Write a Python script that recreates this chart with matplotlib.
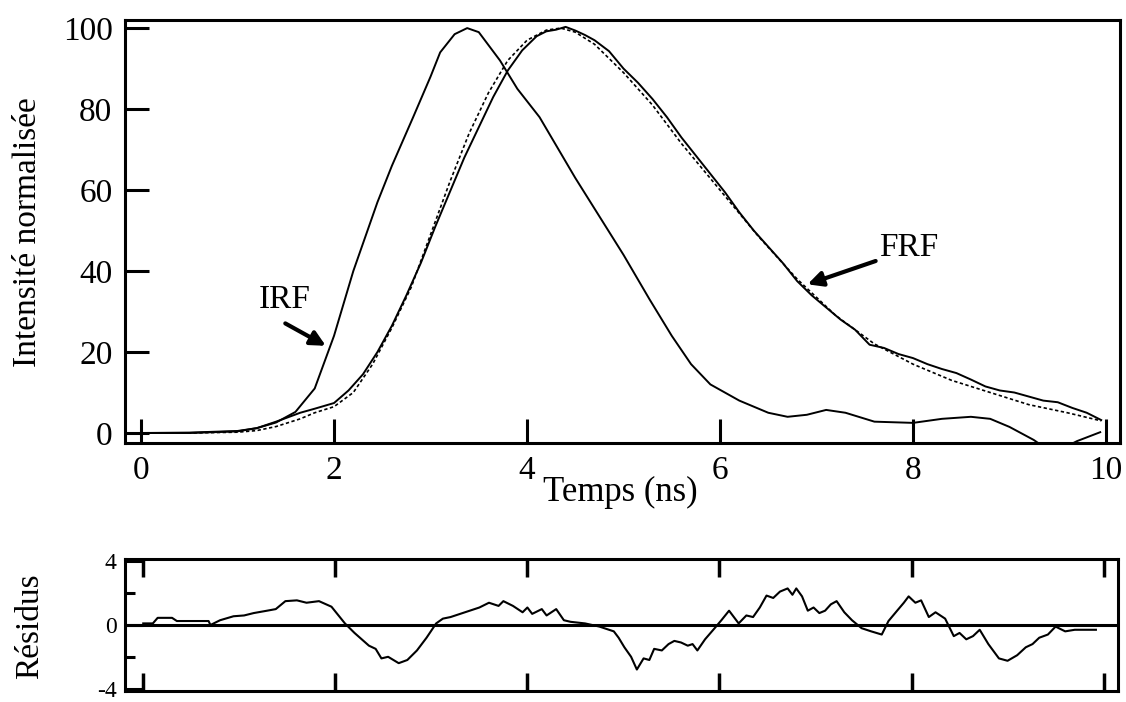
import matplotlib
matplotlib.use("Agg")
import matplotlib.pyplot as plt

plt.rcParams.update({"font.family": "Liberation Serif", "axes.linewidth": 2.2})

# IRF (instrument response)
irf_t = [-0.17, 0, 0.5, 1.0, 1.2, 1.4, 1.6, 1.8, 2.0, 2.2, 2.45, 2.6, 2.82, 3.0, 3.1, 3.25,
         3.38, 3.5, 3.72, 3.9, 4.13, 4.5, 5.0, 5.27, 5.5, 5.7, 5.9, 6.2, 6.5, 6.7, 6.9, 7.1,
         7.3, 7.6, 8.0, 8.3, 8.6, 8.8, 9.0, 9.25, 9.45, 9.7, 9.94]
irf_i = [0, 0, 0, 0.4, 1.2, 2.6, 5.2, 11, 24, 40, 57, 66, 78, 88, 94, 98.5,
         100, 99, 92, 85, 78, 63, 44, 33, 24, 17, 12, 8, 5, 4, 4.5, 5.7,
         5, 2.8, 2.5, 3.5, 4, 3.5, 1.5, -1.7, -5, -2, 0.2]

# FRF (measured fluorescence)
frf_t = [0, 0.5, 1.0, 1.2, 1.4, 1.65, 1.8, 2.0, 2.15, 2.3, 2.45, 2.6, 2.75, 2.9, 3.05, 3.2,
         3.35, 3.5, 3.65, 3.8, 3.95, 4.1, 4.2, 4.3, 4.4, 4.5, 4.6, 4.7, 4.85, 5.0, 5.15, 5.3,
         5.45, 5.6, 5.75, 5.9, 6.05, 6.2, 6.35, 6.5, 6.65, 6.8, 6.95, 7.1, 7.25, 7.4, 7.55,
         7.7, 7.85, 8.0, 8.15, 8.3, 8.45, 8.6, 8.75, 8.9, 9.05, 9.2, 9.35, 9.5, 9.65, 9.8, 9.95]
frf_i = [0, 0.1, 0.5, 1.2, 2.8, 5, 6, 7.4, 10.5, 14.5, 20, 26.5, 34, 42, 51, 59.5,
         68, 75.5, 83, 89.5, 94.5, 98, 99.2, 99.6, 100.3, 99.4, 98.3, 97, 94.3, 90, 86.5, 82.5,
         78, 73, 68.5, 64, 59.5, 54.5, 50, 46, 42, 37.5, 34, 31, 28, 25.5, 21.8,
         21, 19.5, 18.5, 17, 15.8, 14.8, 13.2, 11.5, 10.5, 10, 9, 8, 7.6, 6.2, 5, 3.2]

# fitted curve (dotted)
fit_t = [0, 0.5, 1.0, 1.2, 1.4, 1.65, 1.8, 2.0, 2.2, 2.4, 2.6, 2.8, 3.0, 3.2, 3.4, 3.6, 3.8,
         4.0, 4.2, 4.35, 4.5, 4.7, 5.0, 5.3, 5.6, 6.0, 6.4, 6.8, 7.2, 7.6, 8.0, 8.4, 8.8,
         9.2, 9.6, 9.95]
fit_i = [0, 0, 0.2, 0.6, 1.6, 3.5, 5, 6.5, 10, 17, 26, 36, 49, 62, 74, 84, 92,
         97, 99.5, 100, 99, 96, 89, 81, 71.5, 60, 48.5, 38, 29, 22, 17, 13, 10,
         7, 5, 3]

# residuals
res_t = [0.0, 0.1, 0.15, 0.3, 0.35, 0.5, 0.68, 0.7, 0.8, 0.94,
         1.05, 1.15, 1.29, 1.38, 1.48, 1.6, 1.7, 1.83, 1.96, 2.1,
         2.2, 2.35, 2.42, 2.48, 2.55, 2.66, 2.75, 2.85, 2.95, 3.05,
         3.12, 3.2, 3.3, 3.4, 3.5, 3.6, 3.7, 3.75, 3.85, 3.95,
         4.0, 4.05, 4.15, 4.2, 4.3, 4.38, 4.45, 4.6, 4.75, 4.9,
         4.95, 5.01, 5.08, 5.14, 5.21, 5.27, 5.32, 5.4, 5.47, 5.53,
         5.6, 5.67, 5.72, 5.77, 5.85, 5.95, 6.02, 6.1, 6.2, 6.28,
         6.35, 6.42, 6.49, 6.56, 6.63, 6.71, 6.76, 6.8, 6.86, 6.92,
         6.98, 7.04, 7.1, 7.16, 7.22, 7.3, 7.38, 7.48, 7.58, 7.69,
         7.76, 7.85, 7.92, 7.97, 8.04, 8.1, 8.18, 8.25, 8.35, 8.44,
         8.5, 8.57, 8.64, 8.71, 8.8, 8.91, 9.0, 9.1, 9.19, 9.26,
         9.33, 9.42, 9.5, 9.6, 9.7, 9.8, 9.92]
res_v = [0.1, 0.1, 0.45, 0.45, 0.25, 0.25, 0.25, 0.0, 0.3, 0.55,
         0.6, 0.75, 0.9, 1.0, 1.5, 1.55, 1.4, 1.5, 1.15, 0.1,
         -0.5, -1.3, -1.5, -2.1, -2.0, -2.4, -2.2, -1.6, -0.8, 0.1,
         0.4, 0.5, 0.7, 0.9, 1.1, 1.4, 1.2, 1.5, 1.2, 0.8,
         1.1, 0.7, 1.0, 0.6, 1.0, 0.3, 0.2, 0.1, -0.1, -0.4,
         -0.8, -1.4, -2.0, -2.8, -2.1, -2.2, -1.5, -1.6, -1.2, -1.0,
         -1.1, -1.3, -1.2, -1.6, -0.9, -0.2, 0.3, 0.9, 0.1, 0.6,
         0.5, 1.1, 1.85, 1.7, 2.1, 2.3, 1.9, 2.3, 1.8, 0.9,
         1.1, 0.75, 0.9, 1.3, 1.5, 0.8, 0.3, -0.2, -0.4, -0.6,
         0.25, 0.9, 1.4, 1.8, 1.4, 1.55, 0.5, 0.8, 0.4, -0.7,
         -0.5, -0.9, -0.7, -0.3, -1.2, -2.1, -2.25, -1.9, -1.4, -1.2,
         -0.8, -0.6, -0.1, -0.4, -0.3, -0.3, -0.3]

xticks = [0, 2, 4, 6, 8, 10]
yticks = [0, 20, 40, 60, 80, 100]

fig = plt.figure(figsize=(11.26, 7.02), dpi=100)

# main panel
ax = fig.add_axes([125 / 1126, 1 - 443 / 702, 995 / 1126, 423 / 702])
ax.plot(irf_t, irf_i, color="black", lw=1.4)
ax.plot(frf_t, frf_i, color="black", lw=1.4)
ax.plot(fit_t, fit_i, color="black", lw=1.2, ls=(0, (2, 1.5)))
ax.set_xlim(-0.166, 10.145)
ax.set_ylim(-2.47, 102)
ax.set_xticks(xticks)
ax.set_yticks(yticks)
ax.tick_params(direction="in", length=17, width=2.2, labelsize=24, pad=9)
ax.annotate("", xy=(1.94, 21.2), xytext=(1.47, 27.4),
            arrowprops=dict(arrowstyle="-|>", lw=3, color="black", mutation_scale=22))
ax.text(1.49, 32.8, "IRF", fontsize=24, ha="center", va="center")
ax.annotate("", xy=(6.88, 36.5), xytext=(7.64, 42.7),
            arrowprops=dict(arrowstyle="-|>", lw=3, color="black", mutation_scale=22))
ax.text(7.96, 45.7, "FRF", fontsize=24, ha="center", va="center")

fig.text(620 / 1126, 1 - 492 / 702, "Temps (ns)", fontsize=25, ha="center", va="center")
fig.text(28 / 1126, 1 - 232 / 702, "Intensité normalisée", fontsize=24,
         ha="center", va="center", rotation=90)

# residual panel
rx = fig.add_axes([125 / 1126, 1 - 691 / 702, 993 / 1126, 132 / 702])
rx.plot(res_t, res_v, color="black", lw=1.5)
rx.axhline(0, color="black", lw=2.2)
rx.set_xlim(-0.19, 10.15)
rx.set_ylim(-4.15, 4.15)
rx.set_xticks(xticks)
rx.set_yticks([-4, 0, 4])
rx.set_yticks([-2, 2], minor=True)
rx.tick_params(axis="x", direction="in", length=13, width=2.5, top=True, labelbottom=False)
rx.tick_params(axis="y", which="major", direction="in", length=13, width=2.2, labelsize=17, pad=6)
rx.tick_params(axis="y", which="minor", direction="in", length=7, width=2.2)
rx.set_yticklabels(["-4", "0", "4"])
fig.text(30 / 1126, 1 - 626 / 702, "Résidus", fontsize=24, ha="center", va="center", rotation=90)

fig.savefig("out.png", dpi=100)
